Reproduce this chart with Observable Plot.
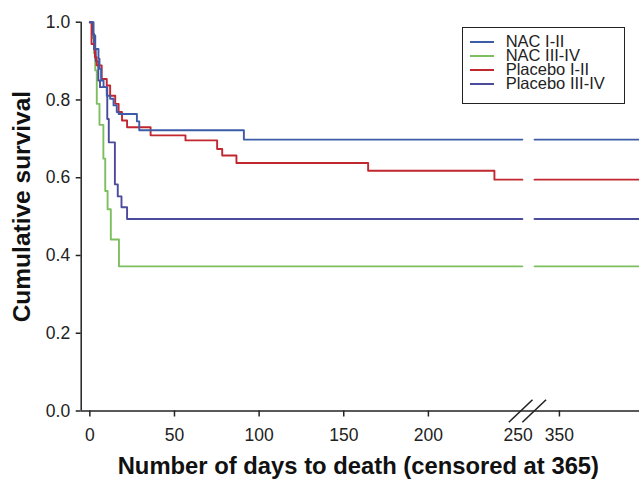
<!DOCTYPE html>
<html><head><meta charset="utf-8">
<script src="https://cdn.jsdelivr.net/npm/d3@7"></script>
<script src="https://cdn.jsdelivr.net/npm/@observablehq/plot@0.6"></script>
<style>
body{margin:0;background:#fff;font-family:"Liberation Sans",Arial,sans-serif;}
#wrap{position:relative;width:639px;height:479px;}
#legend{position:absolute;left:462px;top:27px;width:163px;height:77px;border:1.5px solid #222;box-sizing:border-box;padding-top:7px;background:#fff;}
.row{display:flex;align-items:center;height:13.9px;font-size:16.5px;line-height:13.9px;color:#222;white-space:nowrap;}
.sw{width:24.3px;height:2px;margin-left:7.2px;margin-right:11.2px;flex:none;}
</style></head>
<body><div id="wrap"><div id="legend"></div></div>
<script>
// ---- data ----
const seriesNames  = ["NAC I-II", "NAC III-IV", "Placebo I-II", "Placebo III-IV"];
const seriesColors = ["#3d5ca8", "#7dbf5f", "#c1272f", "#4b4b9e"];

const nacI_days   = [0, 2.2, 3.2, 5.1, 5.7, 6.7, 8.1, 10, 12, 14, 15.9, 17, 20, 27.8, 29.2, 91];
const nacI_surv   = [1.0, 0.966, 0.931, 0.906, 0.88, 0.85, 0.833, 0.811, 0.803, 0.786, 0.769, 0.764, 0.764, 0.745, 0.722, 0.698];

const nacIII_days = [0, 1.5, 2.5, 3.2, 4.1, 5.7, 8, 9.1, 10.5, 12.4, 17.2];
const nacIII_surv = [1.0, 0.96, 0.92, 0.876, 0.79, 0.736, 0.649, 0.566, 0.519, 0.441, 0.372];

const plaI_days   = [0, 1, 3, 4, 7, 10, 12, 15, 17, 19, 22, 35.9, 56.5, 75.2, 78.2, 86.6, 164.4, 239];
const plaI_surv   = [1.0, 0.944, 0.91, 0.889, 0.854, 0.837, 0.811, 0.79, 0.769, 0.747, 0.73, 0.709, 0.696, 0.674, 0.657, 0.638, 0.618, 0.595];

const plaIII_days = [0, 1.5, 2.5, 3.5, 5, 6, 10.3, 11.2, 14.8, 16.5, 18.7, 22];
const plaIII_surv = [1.0, 0.97, 0.93, 0.9, 0.85, 0.833, 0.751, 0.691, 0.583, 0.552, 0.524, 0.494];

const xTickDays   = [0, 50, 100, 150, 200, 350];
const xBreakLabel = [250];
const yTicks      = [0, 0.2, 0.4, 0.6, 0.8, 1.0];

// ---- broken x axis ----
const xStartDay = -5.1, xEndDay = 397.3;
const breakDay = 258.5, breakOffset = 72.6;     // days 258.5..331.1 are cut out
const seg1End = 255.5, seg2Start = 335.3;
const compress = d => d <= breakDay ? d : d - breakOffset;

const seriesData = {
  "NAC I-II": [nacI_days, nacI_surv],
  "NAC III-IV": [nacIII_days, nacIII_surv],
  "Placebo I-II": [plaI_days, plaI_surv],
  "Placebo III-IV": [plaIII_days, plaIII_surv]
};
const drawOrder = ["NAC III-IV", "Placebo III-IV", "Placebo I-II", "NAC I-II"];
const rows = [];
for (const name of drawOrder) {
  const [days, surv] = seriesData[name];
  days.forEach((d, i) => rows.push({series: name, seg: 1, x: compress(d), y: surv[i]}));
  const last = surv[surv.length - 1];
  rows.push({series: name, seg: 1, x: compress(seg1End), y: last});
  rows.push({series: name, seg: 2, x: compress(seg2Start), y: last});
  rows.push({series: name, seg: 2, x: compress(xEndDay), y: last});
}

const labelOf = new Map([...xTickDays, ...xBreakLabel].map(d => [compress(d), String(d)]));
const slashes = [-4, 4].map(c => ({x1: breakDay + c - 7, x2: breakDay + c + 7, y1: -0.029, y2: 0.029}));

const chart = Plot.plot({
  width: 639, height: 479,
  marginLeft: 80.7, marginRight: 0, marginTop: 21.7, marginBottom: 68.5,
  style: {fontFamily: "'Liberation Sans', Arial, sans-serif", fontSize: "17.5px", color: "#222", background: "white"},
  x: {domain: [compress(xStartDay), compress(xEndDay)]},
  y: {domain: [0, 1]},
  color: {domain: seriesNames, range: seriesColors},
  marks: [
    Plot.line(rows, {x: "x", y: "y", z: d => d.series + d.seg, stroke: "series", curve: "step-after", strokeWidth: 1.9}),
    Plot.ruleY([0], {stroke: "#222", strokeWidth: 1.5}),
    Plot.ruleX([compress(xStartDay)], {stroke: "#222", strokeWidth: 1.5}),
    Plot.axisY({ticks: yTicks, tickFormat: d3.format(".1f"), tickSize: 5, tickPadding: 6, strokeWidth: 1.5, label: null}),
    Plot.axisX({ticks: xTickDays.map(compress), tickFormat: d => labelOf.get(d), tickSize: 6, tickPadding: 12, strokeWidth: 1.5, label: null}),
    Plot.axisX({ticks: xBreakLabel.map(compress), tickFormat: d => labelOf.get(d), tickSize: 0, tickPadding: 18, dx: 5, label: null}),
    Plot.link(slashes, {x1: "x1", x2: "x2", y1: "y1", y2: "y2", stroke: "#222", strokeWidth: 1.6}),
    Plot.text(["Number of days to death (censored at 365)"], {text: d => d, frameAnchor: "bottom", textAnchor: "middle", dy: 55, dx: -2, fontWeight: "bold", fontSize: 23.8, lineAnchor: "middle", fill: "#111"}),
    Plot.text(["Cumulative survival"], {text: d => d, frameAnchor: "left", textAnchor: "middle", rotate: -90, dx: -58.7, dy: -10, fontWeight: "bold", fontSize: 24.5, lineAnchor: "middle", fill: "#111"})
  ]
});
document.getElementById("wrap").insertBefore(chart, document.getElementById("legend"));

const legend = document.getElementById("legend");
seriesNames.forEach((name, i) => {
  const row = document.createElement("div");
  row.className = "row";
  const sw = document.createElement("span");
  sw.className = "sw";
  sw.style.background = seriesColors[i];
  const tx = document.createElement("span");
  tx.textContent = name;
  row.appendChild(sw); row.appendChild(tx);
  legend.appendChild(row);
});
</script>
</body></html>
